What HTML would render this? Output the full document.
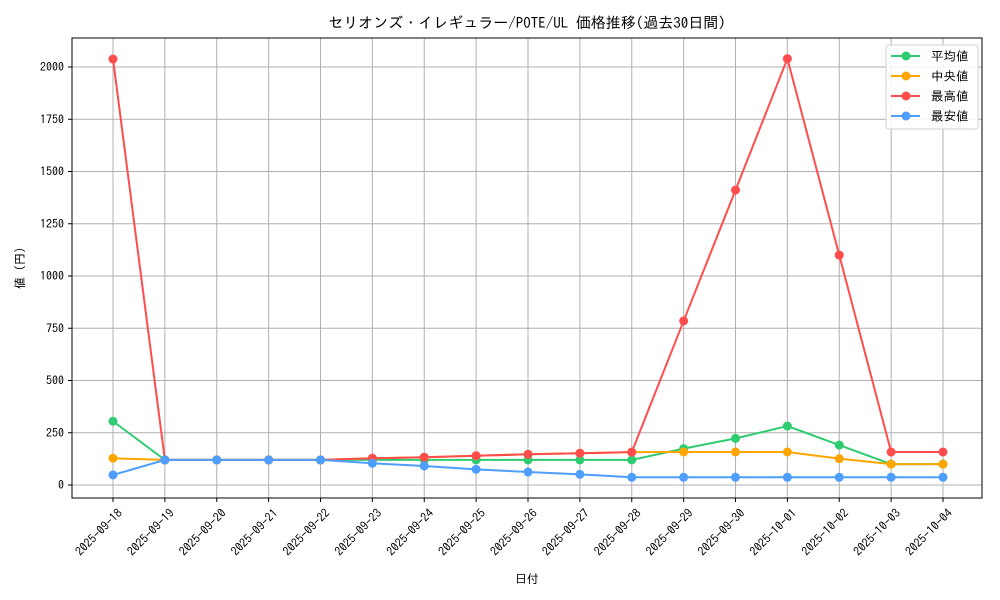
<!DOCTYPE html>
<html><head><meta charset="utf-8"><style>
body{margin:0;background:#fff;}
svg{display:block;font-family:"IPAGothic","Noto Sans CJK JP",sans-serif;}
</style></head><body>
<svg id="chart" width="1000" height="600" xmlns="http://www.w3.org/2000/svg">
<rect width="1000" height="600" fill="#fff"/>
<text x="527" y="28" text-anchor="middle" font-size="15" fill="#000">セリオンズ・イレギュラー/POTE/UL 価格推移(過去30日間)</text>
<g id="grid"></g>
<g id="series"></g>
<rect x="72" y="38" width="910" height="460" fill="none" stroke="#000" stroke-width="1"/>
<g id="axes"></g>
<text x="527" y="583" text-anchor="middle" font-size="12">日付</text>
<text transform="translate(24,268) rotate(-90)" text-anchor="middle" font-size="12">値 (円)</text>
<g id="legend"></g>
</svg>
<script>
const categories=["2025-09-18","2025-09-19","2025-09-20","2025-09-21","2025-09-22","2025-09-23","2025-09-24","2025-09-25","2025-09-26","2025-09-27","2025-09-28","2025-09-29","2025-09-30","2025-10-01","2025-10-02","2025-10-03","2025-10-04"];
const avgValues=[305,120,120,120,120,120,120,120,120,120,120,174,223,282,191,100,100];
const medianValues=[128,120,120,120,120,128,133,140,147,152,157,158,158,158,126,100,100];
const maxValues=[2038,120,120,120,120,128,133,140,147,152,157,785,1411,2040,1100,158,158];
const minValues=[48,120,120,120,120,104,91,75,62,51,37,37,37,37,37,37,37];
const yTicks=[0,250,500,750,1000,1250,1500,1750,2000];
const seriesNames=["平均値","中央値","最高値","最安値"];
const seriesColors=["#2ecc71","#ffa500","#ff4d4d","#4d9eff"];
const seriesData=[avgValues,medianValues,maxValues,minValues];

const NS="http://www.w3.org/2000/svg";
const x=i=>113+i*(943-113)/(categories.length-1);
const y=v=>485-v*(485-67)/2000;
function mk(tag,attrs,parent){const e=document.createElementNS(NS,tag);for(const k in attrs)e.setAttribute(k,attrs[k]);parent.appendChild(e);return e;}
const grid=document.getElementById('grid'),axes=document.getElementById('axes'),ser=document.getElementById('series'),leg=document.getElementById('legend');
categories.forEach((c,i)=>{
  const l=mk('line',{x1:x(i),x2:x(i),y1:38,y2:498,stroke:'#b0b0b0','stroke-width':1},grid);
  
  
  mk('line',{x1:x(i),x2:x(i),y1:498,y2:502,stroke:'#000'},axes);
  const t=mk('text',{transform:`translate(${x(i)+4},${508}) rotate(-45)`,'text-anchor':'end','font-size':12,dy:'0.7em'},axes);
  t.textContent=c;
  
  
});
yTicks.forEach(v=>{
  const l=mk('line',{x1:72,x2:982,y1:y(v),y2:y(v),stroke:'#b0b0b0','stroke-width':1},grid);
  
  
  mk('line',{x1:68,x2:72,y1:y(v),y2:y(v),stroke:'#000'},axes);
  const t=mk('text',{x:64,y:y(v)+4,'text-anchor':'end','font-size':12},axes);
  t.textContent=v;
  
  
});
seriesData.forEach((d,s)=>{
  const g=mk('g',{},ser);
  
  
  mk('polyline',{points:d.map((v,i)=>x(i)+','+y(v)).join(' '),fill:'none',stroke:seriesColors[s],'stroke-width':2},g);
  d.forEach((v,i)=>{
    const c=mk('circle',{cx:x(i),cy:y(v),r:4.5,fill:seriesColors[s]},g);
    
    
  });
});
mk('rect',{x:886,y:45,width:92,height:84,rx:3,fill:'#fff','fill-opacity':0.85,stroke:'#d0d0d0'},leg);
seriesNames.forEach((n,s)=>{
  const yy=56+s*20;
  const g=mk('g',{},leg);
  
  
  mk('line',{x1:891,x2:920,y1:yy,y2:yy,stroke:seriesColors[s],'stroke-width':2},g);
  mk('circle',{cx:906,cy:yy,r:4.5,fill:seriesColors[s]},g);
  const t=mk('text',{x:931,y:yy+4.5,'font-size':12.5},g);
  t.textContent=n;
});
</script>
</body></html>
